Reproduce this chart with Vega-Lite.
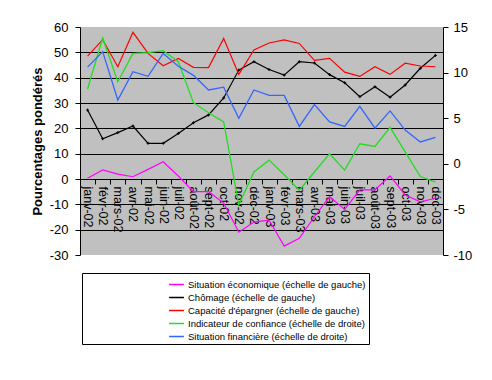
{
  "$schema": "https://vega.github.io/schema/vega-lite/v6.json",
  "width": 363,
  "height": 228,
  "autosize": {"type": "none"},
  "padding": {"left": 80, "top": 27, "right": 49, "bottom": 125},
  "background": "white",
  "config": {
    "font": "Liberation Sans",
    "view": {"fill": "#c0c0c0", "stroke": null},
    "axis": {"domainColor": "black", "tickColor": "black", "labelColor": "black", "titleColor": "black", "domainWidth": 1, "tickWidth": 1},
    "legend": {"strokeColor": "black", "fillColor": "white", "padding": 3, "symbolOffset": 83, "rowPadding": 0, "labelFontSize": 9.5, "labelColor": "black", "labelOffset": 3, "labelLimit": 400, "symbolType": "stroke", "symbolSize": 220, "symbolStrokeWidth": 1.5},
    "locale": {"number": {"decimal": ",", "thousands": " ", "grouping": [3], "currency": ["", " €"], "minus": "-"}}
  },
  "datasets": {
    "left": [
      {"month": "janv-02", "series": "Situation économique (échelle de gauche)", "value": 0.3},
      {"month": "févr-02", "series": "Situation économique (échelle de gauche)", "value": 3.6},
      {"month": "mars-02", "series": "Situation économique (échelle de gauche)", "value": 1.9},
      {"month": "avr-02", "series": "Situation économique (échelle de gauche)", "value": 0.9},
      {"month": "mai-02", "series": "Situation économique (échelle de gauche)", "value": 3.8},
      {"month": "juin-02", "series": "Situation économique (échelle de gauche)", "value": 6.8},
      {"month": "juil-02", "series": "Situation économique (échelle de gauche)", "value": 1.2},
      {"month": "août-02", "series": "Situation économique (échelle de gauche)", "value": -5.0},
      {"month": "sept-02", "series": "Situation économique (échelle de gauche)", "value": -5.0},
      {"month": "oct-02", "series": "Situation économique (échelle de gauche)", "value": -9.5},
      {"month": "nov-02", "series": "Situation économique (échelle de gauche)", "value": -21.0},
      {"month": "déc-02", "series": "Situation économique (échelle de gauche)", "value": -17.0},
      {"month": "janv-03", "series": "Situation économique (échelle de gauche)", "value": -16.2},
      {"month": "févr-03", "series": "Situation économique (échelle de gauche)", "value": -26.5},
      {"month": "mars-03", "series": "Situation économique (échelle de gauche)", "value": -23.4},
      {"month": "avr-03", "series": "Situation économique (échelle de gauche)", "value": -14.9},
      {"month": "mai-03", "series": "Situation économique (échelle de gauche)", "value": -7.0},
      {"month": "juin-03", "series": "Situation économique (échelle de gauche)", "value": -12.0},
      {"month": "juil-03", "series": "Situation économique (échelle de gauche)", "value": -4.3},
      {"month": "août-03", "series": "Situation économique (échelle de gauche)", "value": -4.3},
      {"month": "sept-03", "series": "Situation économique (échelle de gauche)", "value": 1.2},
      {"month": "oct-03", "series": "Situation économique (échelle de gauche)", "value": -6.3},
      {"month": "nov-03", "series": "Situation économique (échelle de gauche)", "value": -9.0},
      {"month": "déc-03", "series": "Situation économique (échelle de gauche)", "value": -7.6},
      {"month": "janv-02", "series": "Chômage (échelle de gauche)", "value": 27.2},
      {"month": "févr-02", "series": "Chômage (échelle de gauche)", "value": 15.9},
      {"month": "mars-02", "series": "Chômage (échelle de gauche)", "value": 18.3},
      {"month": "avr-02", "series": "Chômage (échelle de gauche)", "value": 20.9},
      {"month": "mai-02", "series": "Chômage (échelle de gauche)", "value": 14.1},
      {"month": "juin-02", "series": "Chômage (échelle de gauche)", "value": 14.1},
      {"month": "juil-02", "series": "Chômage (échelle de gauche)", "value": 18.0},
      {"month": "août-02", "series": "Chômage (échelle de gauche)", "value": 22.2},
      {"month": "sept-02", "series": "Chômage (échelle de gauche)", "value": 25.3},
      {"month": "oct-02", "series": "Chômage (échelle de gauche)", "value": 32.0},
      {"month": "nov-02", "series": "Chômage (échelle de gauche)", "value": 43.0},
      {"month": "déc-02", "series": "Chômage (échelle de gauche)", "value": 46.3},
      {"month": "janv-03", "series": "Chômage (échelle de gauche)", "value": 43.2},
      {"month": "févr-03", "series": "Chômage (échelle de gauche)", "value": 41.0},
      {"month": "mars-03", "series": "Chômage (échelle de gauche)", "value": 46.3},
      {"month": "avr-03", "series": "Chômage (échelle de gauche)", "value": 45.8},
      {"month": "mai-03", "series": "Chômage (échelle de gauche)", "value": 41.2},
      {"month": "juin-03", "series": "Chômage (échelle de gauche)", "value": 38.0},
      {"month": "juil-03", "series": "Chômage (échelle de gauche)", "value": 32.5},
      {"month": "août-03", "series": "Chômage (échelle de gauche)", "value": 36.4},
      {"month": "sept-03", "series": "Chômage (échelle de gauche)", "value": 32.3},
      {"month": "oct-03", "series": "Chômage (échelle de gauche)", "value": 37.1},
      {"month": "nov-03", "series": "Chômage (échelle de gauche)", "value": 43.7},
      {"month": "déc-03", "series": "Chômage (échelle de gauche)", "value": 48.8},
      {"month": "janv-02", "series": "Capacité d'épargner (échelle de gauche)", "value": 48.5},
      {"month": "févr-02", "series": "Capacité d'épargner (échelle de gauche)", "value": 55.0},
      {"month": "mars-02", "series": "Capacité d'épargner (échelle de gauche)", "value": 44.3},
      {"month": "avr-02", "series": "Capacité d'épargner (échelle de gauche)", "value": 57.9},
      {"month": "mai-02", "series": "Capacité d'épargner (échelle de gauche)", "value": 49.6},
      {"month": "juin-02", "series": "Capacité d'épargner (échelle de gauche)", "value": 44.7},
      {"month": "juil-02", "series": "Capacité d'épargner (échelle de gauche)", "value": 47.6},
      {"month": "août-02", "series": "Capacité d'épargner (échelle de gauche)", "value": 44.1},
      {"month": "sept-02", "series": "Capacité d'épargner (échelle de gauche)", "value": 44.0},
      {"month": "oct-02", "series": "Capacité d'épargner (échelle de gauche)", "value": 55.5},
      {"month": "nov-02", "series": "Capacité d'épargner (échelle de gauche)", "value": 41.3},
      {"month": "déc-02", "series": "Capacité d'épargner (échelle de gauche)", "value": 50.9},
      {"month": "janv-03", "series": "Capacité d'épargner (échelle de gauche)", "value": 53.7},
      {"month": "févr-03", "series": "Capacité d'épargner (échelle de gauche)", "value": 54.9},
      {"month": "mars-03", "series": "Capacité d'épargner (échelle de gauche)", "value": 53.5},
      {"month": "avr-03", "series": "Capacité d'épargner (échelle de gauche)", "value": 46.8},
      {"month": "mai-03", "series": "Capacité d'épargner (échelle de gauche)", "value": 47.6},
      {"month": "juin-03", "series": "Capacité d'épargner (échelle de gauche)", "value": 42.2},
      {"month": "juil-03", "series": "Capacité d'épargner (échelle de gauche)", "value": 40.5},
      {"month": "août-03", "series": "Capacité d'épargner (échelle de gauche)", "value": 44.3},
      {"month": "sept-03", "series": "Capacité d'épargner (échelle de gauche)", "value": 41.3},
      {"month": "oct-03", "series": "Capacité d'épargner (échelle de gauche)", "value": 45.7},
      {"month": "nov-03", "series": "Capacité d'épargner (échelle de gauche)", "value": 44.6},
      {"month": "déc-03", "series": "Capacité d'épargner (échelle de gauche)", "value": 44.3}
    ],
    "right": [
      {"month": "janv-02", "series": "Indicateur de confiance (échelle de droite)", "value": 8.2},
      {"month": "févr-02", "series": "Indicateur de confiance (échelle de droite)", "value": 13.8},
      {"month": "mars-02", "series": "Indicateur de confiance (échelle de droite)", "value": 9.0},
      {"month": "avr-02", "series": "Indicateur de confiance (échelle de droite)", "value": 12.1},
      {"month": "mai-02", "series": "Indicateur de confiance (échelle de droite)", "value": 12.2},
      {"month": "juin-02", "series": "Indicateur de confiance (échelle de droite)", "value": 12.4},
      {"month": "juil-02", "series": "Indicateur de confiance (échelle de droite)", "value": 11.2},
      {"month": "août-02", "series": "Indicateur de confiance (échelle de droite)", "value": 6.7},
      {"month": "sept-02", "series": "Indicateur de confiance (échelle de droite)", "value": 5.6},
      {"month": "oct-02", "series": "Indicateur de confiance (échelle de droite)", "value": 4.6},
      {"month": "nov-02", "series": "Indicateur de confiance (échelle de droite)", "value": -4.5},
      {"month": "déc-02", "series": "Indicateur de confiance (échelle de droite)", "value": -0.9},
      {"month": "janv-03", "series": "Indicateur de confiance (échelle de droite)", "value": 0.4},
      {"month": "févr-03", "series": "Indicateur de confiance (échelle de droite)", "value": -1.2},
      {"month": "mars-03", "series": "Indicateur de confiance (échelle de droite)", "value": -2.9},
      {"month": "avr-03", "series": "Indicateur de confiance (échelle de droite)", "value": -0.9},
      {"month": "mai-03", "series": "Indicateur de confiance (échelle de droite)", "value": 1.1},
      {"month": "juin-03", "series": "Indicateur de confiance (échelle de droite)", "value": -0.7},
      {"month": "juil-03", "series": "Indicateur de confiance (échelle de droite)", "value": 2.2},
      {"month": "août-03", "series": "Indicateur de confiance (échelle de droite)", "value": 1.9},
      {"month": "sept-03", "series": "Indicateur de confiance (échelle de droite)", "value": 4.0},
      {"month": "oct-03", "series": "Indicateur de confiance (échelle de droite)", "value": 1.3},
      {"month": "nov-03", "series": "Indicateur de confiance (échelle de droite)", "value": -1.4},
      {"month": "déc-03", "series": "Indicateur de confiance (échelle de droite)", "value": -2.0},
      {"month": "janv-02", "series": "Situation financière (échelle de droite)", "value": 10.6},
      {"month": "févr-02", "series": "Situation financière (échelle de droite)", "value": 12.3},
      {"month": "mars-02", "series": "Situation financière (échelle de droite)", "value": 7.0},
      {"month": "avr-02", "series": "Situation financière (échelle de droite)", "value": 10.1},
      {"month": "mai-02", "series": "Situation financière (échelle de droite)", "value": 9.6},
      {"month": "juin-02", "series": "Situation financière (échelle de droite)", "value": 12.1},
      {"month": "juil-02", "series": "Situation financière (échelle de droite)", "value": 10.7},
      {"month": "août-02", "series": "Situation financière (échelle de droite)", "value": 9.7},
      {"month": "sept-02", "series": "Situation financière (échelle de droite)", "value": 8.1},
      {"month": "oct-02", "series": "Situation financière (échelle de droite)", "value": 8.4},
      {"month": "nov-02", "series": "Situation financière (échelle de droite)", "value": 5.0},
      {"month": "déc-02", "series": "Situation financière (échelle de droite)", "value": 8.1},
      {"month": "janv-03", "series": "Situation financière (échelle de droite)", "value": 7.5},
      {"month": "févr-03", "series": "Situation financière (échelle de droite)", "value": 7.5},
      {"month": "mars-03", "series": "Situation financière (échelle de droite)", "value": 4.1},
      {"month": "avr-03", "series": "Situation financière (échelle de droite)", "value": 6.5},
      {"month": "mai-03", "series": "Situation financière (échelle de droite)", "value": 4.6},
      {"month": "juin-03", "series": "Situation financière (échelle de droite)", "value": 4.1},
      {"month": "juil-03", "series": "Situation financière (échelle de droite)", "value": 6.3},
      {"month": "août-03", "series": "Situation financière (échelle de droite)", "value": 3.9},
      {"month": "sept-03", "series": "Situation financière (échelle de droite)", "value": 5.8},
      {"month": "oct-03", "series": "Situation financière (échelle de droite)", "value": 3.7},
      {"month": "nov-03", "series": "Situation financière (échelle de droite)", "value": 2.4},
      {"month": "déc-03", "series": "Situation financière (échelle de droite)", "value": 2.9}
    ]
  },
  "encoding": {
    "x": {
      "field": "month",
      "type": "ordinal",
      "sort": ["janv-02", "févr-02", "mars-02", "avr-02", "mai-02", "juin-02", "juil-02", "août-02", "sept-02", "oct-02", "nov-02", "déc-02", "janv-03", "févr-03", "mars-03", "avr-03", "mai-03", "juin-03", "juil-03", "août-03", "sept-03", "oct-03", "nov-03", "déc-03"],
      "scale": {"type": "point", "padding": 0.5},
      "axis": {
        "title": null,
        "offset": -76,
        "labelAngle": 90,
        "labelFontSize": 12.5,
        "labelPadding": 2,
        "tickSize": 5,
        "tickOffset": -7.5625,
        "labelOffset": 7.5625,
        "grid": false,
        "labelOverlap": false,
        "labelBound": false,
        "labelFlush": false
      }
    },
    "color": {
      "field": "series",
      "type": "nominal",
      "scale": {
        "domain": ["Situation économique (échelle de gauche)", "Chômage (échelle de gauche)", "Capacité d'épargner (échelle de gauche)", "Indicateur de confiance (échelle de droite)", "Situation financière (échelle de droite)"],
        "range": ["#ff00ff", "#000000", "#ff0000", "#22dd22", "#3366ff"]
      },
      "legend": {
        "title": null,
        "orient": "none",
        "legendX": 2,
        "legendY": 246,
        "strokeColor": "black",
        "fillColor": "white"
      }
    }
  },
  "layer": [
    {
      "data": {"name": "left"},
      "encoding": {
        "y": {
          "field": "value",
          "type": "quantitative",
          "scale": {"domain": [-30, 60], "nice": false, "zero": false},
          "axis": {
            "title": "Pourcentages pondérés",
            "titleFontSize": 13,
            "titleFontWeight": "bold",
            "titlePadding": 5,
            "values": [-30, -20, -10, 0, 10, 20, 30, 40, 50, 60],
            "labelFontSize": 13,
            "labelPadding": 7,
            "tickSize": 5,
            "grid": true,
            "gridColor": "black",
            "gridOpacity": {"condition": {"test": "datum.value === 60 || datum.value === -30", "value": 0}, "value": 1}
          }
        }
      },
      "layer": [
        {"mark": {"type": "line", "strokeWidth": 1.2}},
        {
          "transform": [{"filter": {"field": "series", "equal": "Chômage (échelle de gauche)"}}],
          "mark": {"type": "point", "shape": "M-1,0H1M0,-1V1", "size": 9, "filled": false, "strokeWidth": 1, "opacity": 1},
          "encoding": {"color": {"value": "black"}}
        }
      ]
    },
    {
      "data": {"name": "right"},
      "mark": {"type": "line", "strokeWidth": 1.3},
      "encoding": {
        "y": {
          "field": "value",
          "type": "quantitative",
          "scale": {"domain": [-10, 15], "nice": false, "zero": false},
          "axis": {
            "orient": "right",
            "title": null,
            "values": [-10, -5, 0, 5, 10, 15],
            "labelFontSize": 13,
            "labelPadding": 5,
            "tickSize": 5,
            "grid": false
          }
        }
      }
    }
  ],
  "resolve": {"scale": {"y": "independent"}}
}
